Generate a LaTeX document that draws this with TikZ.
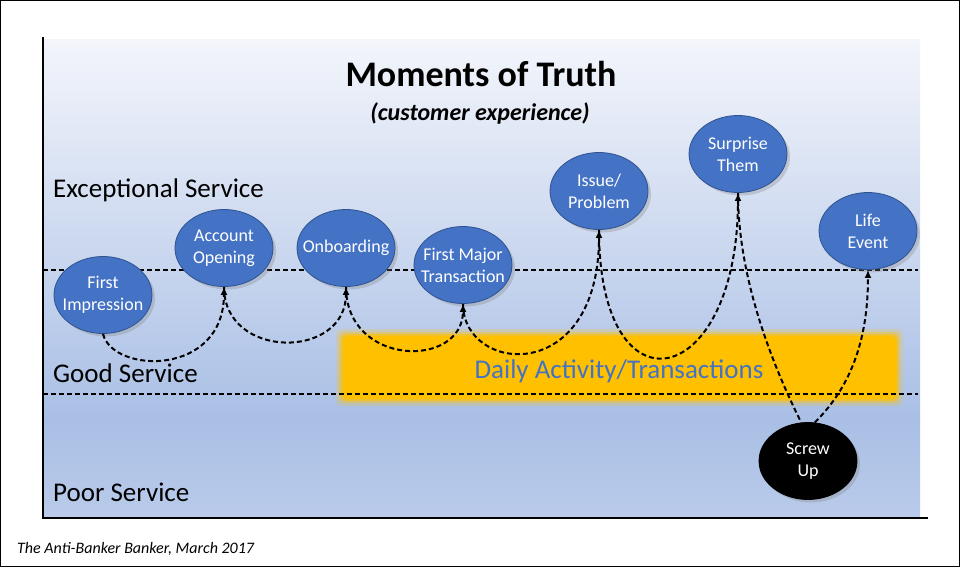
\documentclass[tikz,border=0pt]{standalone}
\usepackage{fontspec}
\setmainfont{Carlito}
\usetikzlibrary{shapes.geometric, arrows.meta, shadows}
\definecolor{motblue}{HTML}{4472C4}
\definecolor{motedge}{HTML}{2F528F}
\definecolor{motgold}{HTML}{FFC000}
\definecolor{motsky}{HTML}{F3F5FB}
\definecolor{motdeep}{HTML}{A9BFE5}
\definecolor{motbase}{HTML}{BACBEA}

\begin{document}
\begin{tikzpicture}[
    x=1pt, y=-1pt,
    every node/.style={font=\fontsize{18}{22}\selectfont, inner sep=0pt},
    moment/.style={
      ellipse, draw=motedge, line width=0.8pt,
      fill=motblue, text=white,
      minimum width=98pt, minimum height=77pt,
      inner xsep=-10pt, inner ysep=0pt, align=center,
      drop shadow={opacity=0.3, shadow xshift=3pt, shadow yshift=-3pt},
    },
    screwup/.style={
      moment, fill=black, draw=black,
    },
    level/.style={
      font=\fontsize{27}{32}\selectfont, anchor=base west,
    },
    guide/.style={
      line width=1.1pt, dash pattern=on 5pt off 3pt,
    },
    flow/.style={
      -{Latex[length=8pt,width=7pt]}, line width=2pt,
      dash pattern=on 5pt off 3pt,
    },
    dip/.style={
      line width=2pt, dash pattern=on 5pt off 3pt,
    },
  ]
  \useasboundingbox (0,0) rectangle (960,567);
  \fill[white] (0,0) rectangle (960,567);
  \draw[line width=1pt] (0.5,0.5) rectangle (959.5,566.5);

  \shade[top color=motsky, bottom color=motdeep] (43,40) rectangle (920,421);
  \shade[top color=motdeep, bottom color=motbase] (43,420) rectangle (920,518);

  \foreach \g/\o in {7/0.2, 4/0.35, 2/0.6, 0/1}
    \fill[motgold, opacity=\o, rounded corners=6pt]
      (343-\g,336-\g) rectangle (896+\g,399+\g);

  \draw[guide] (43,270) -- (918,270);
  \draw[guide] (43,394) -- (918,394);
  \draw[line width=1.8pt] (43,37) -- (43,518) -- (928,518);

  \node[anchor=base, font=\fontsize{36}{40}\selectfont\bfseries] (title) at (481,87) {Moments of Truth};
  \node[anchor=base, font=\fontsize{24}{28}\selectfont\bfseries\itshape] (subtitle) at (480,121) {(customer experience)};

  \node[level] (exceptional) at (53,197) {Exceptional Service};
  \node[level] (good) at (53,382) {Good Service};
  \node[level] (poor) at (53,501) {Poor Service};

  \node[anchor=base, font=\fontsize{27}{32}\selectfont, text=motblue] (daily) at (619,378) {Daily Activity/Transactions};

  \node[moment] (fi) at (103,295) {First\\Impression};
  \node[moment] (ao) at (224,248) {Account\\Opening};
  \node[moment] (ob) at (346,248) {Onboarding};
  \node[moment] (fmt) at (463,265) {First Major\\Transaction};
  \node[moment] (ip) at (599,191) {Issue/\\Problem};
  \node[moment] (st) at (738,154) {Surprise\\Them};
  \node[moment] (le) at (868,231) {Life\\Event};
  \node[screwup] (su) at (808,461) {Screw\\Up};

  \draw[flow] (fi.south) .. controls +(10,40) and +(0,90) .. (ao.south);
  \draw[flow] (ao.south) .. controls +(0,73) and +(0,73) .. (ob.south);
  \draw[flow] (ob.south) .. controls +(0,80) and +(0,65) .. (fmt.south);
  \draw[flow] (fmt.south) .. controls +(0,70) and +(0,157) .. (ip.south);
  \draw[flow] (ip.south) .. controls +(0,190) and +(0,198) .. (st.south);
  \draw[dip] (st.south) .. controls +(0,90) and +(-25,-50) .. (su.100);
  \draw[flow] (su.80) .. controls +(30,-30) and +(0,80) .. (le.south);

  \node[anchor=base west, font=\fontsize{16}{19}\selectfont\itshape] (credit) at (17,553) {The Anti-Banker Banker, March 2017};
\end{tikzpicture}
\end{document}
